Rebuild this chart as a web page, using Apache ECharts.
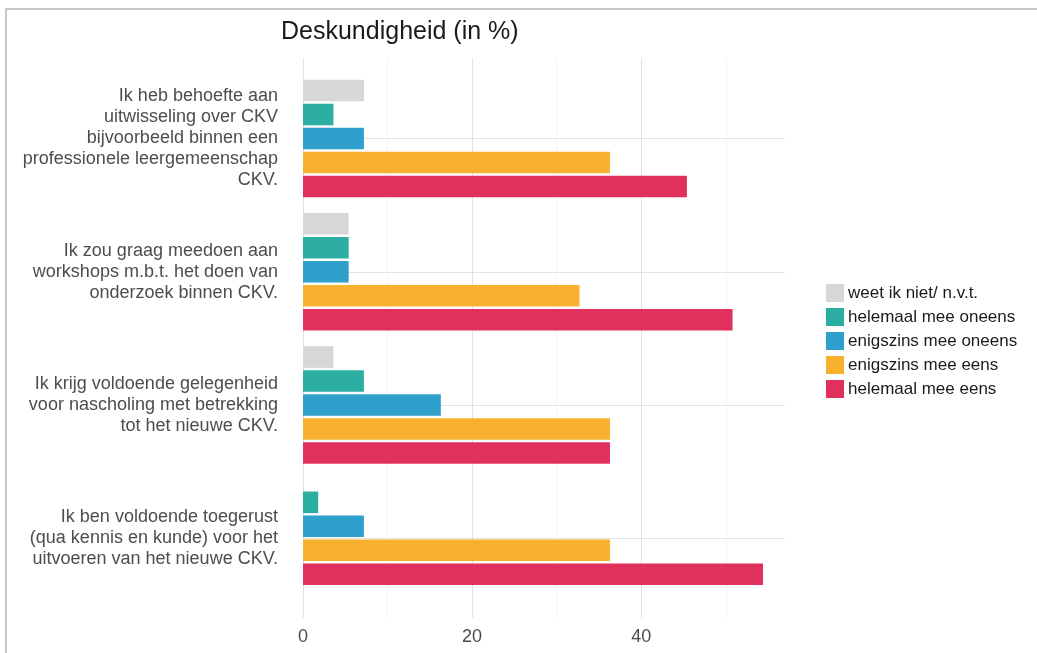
<!DOCTYPE html>
<html>
<head>
<meta charset="utf-8">
<script src="https://cdn.jsdelivr.net/npm/echarts@6/dist/echarts.min.js"></script>
<style>
  html, body { margin: 0; padding: 0; background: #fff; }
  #chart { width: 1037px; height: 653px; }
</style>
</head>
<body>
<div id="chart"></div>
<script>
// stellingen (van boven naar beneden)
const categories = [
  'Ik heb behoefte aan\nuitwisseling over CKV\nbijvoorbeeld binnen een\nprofessionele leergemeenschap\nCKV.',
  'Ik zou graag meedoen aan\nworkshops m.b.t. het doen van\nonderzoek binnen CKV.',
  'Ik krijg voldoende gelegenheid\nvoor nascholing met betrekking\ntot het nieuwe CKV.',
  'Ik ben voldoende toegerust\n(qua kennis en kunde) voor het\nuitvoeren van het nieuwe CKV.'
]

const seriesNames = [
  'weet ik niet/ n.v.t.',
  'helemaal mee oneens',
  'enigszins mee oneens',
  'enigszins mee eens',
  'helemaal mee eens'
]

// percentages per stelling
const weetNiet = [7.2, 5.4, 3.6, null]
const helemaalOneens = [3.6, 5.4, 7.2, 1.8]
const enigszinsOneens = [7.2, 5.4, 16.3, 7.2]
const enigszinsEens = [36.3, 32.7, 36.3, 36.3]
const helemaalEens = [45.4, 50.8, 36.3, 54.4]

const xTicks = [0, 20, 40]

const allValues = [weetNiet, helemaalOneens, enigszinsOneens, enigszinsEens, helemaalEens]
const colors = ['#d7d7d7', '#2bada1', '#2f9fcb', '#f7b12f', '#e2305c']

const chart = echarts.init(document.getElementById('chart'))

// balken per stelling gecentreerd, ontbrekende categorie telt niet mee
function renderBar(params, api) {
  const cat = api.value(1)
  const shown = []
  allValues.forEach(function (vals, s) {
    if (vals[cat] != null) shown.push(s)
  })
  const slot = shown.indexOf(params.seriesIndex)
  const band = Math.abs(api.coord([0, 1])[1] - api.coord([0, 0])[1])
  const pitch = band * 0.9 / seriesNames.length
  const base = api.coord([0, cat])
  const tip = api.coord([api.value(0), cat])
  const mid = base[1] + (slot - (shown.length - 1) / 2) * pitch
  return {
    type: 'rect',
    shape: { x: base[0], y: mid - pitch * 0.45, width: tip[0] - base[0], height: pitch * 0.9 },
    style: api.style()
  }
}

const option = {
  backgroundColor: '#fff',
  textStyle: { fontFamily: '"Liberation Sans", Arial, sans-serif' },
  graphic: [{
    type: 'rect',
    silent: true,
    shape: { x: 6, y: 9, width: 1100, height: 700 },
    style: { fill: 'none', stroke: '#c6c6c6', lineWidth: 2 }
  }],
  title: {
    text: 'Deskundigheid (in %)',
    left: 276,
    top: 15,
    textStyle: { fontSize: 25, fontWeight: 'normal', color: '#1a1a1a' }
  },
  legend: {
    orient: 'vertical',
    left: 826,
    top: 284,
    padding: 0,
    itemWidth: 18,
    itemHeight: 18,
    itemGap: 6,
    icon: 'rect',
    data: seriesNames,
    textStyle: { fontSize: 17, color: '#1a1a1a', padding: [0, 0, 0, -1] }
  },
  grid: [
    // alleen verticale rasterlijnen + x-as labels
    { left: 303, right: 252, top: 58, bottom: 35 },
    // balken
    { left: 303, right: 252, top: 138.5, bottom: 114.7 }
  ],
  xAxis: [
    {
      gridIndex: 0,
      type: 'value',
      min: 0,
      max: 57,
      interval: 10,
      axisLine: { show: false },
      axisTick: { show: false },
      axisLabel: {
        margin: 10,
        fontSize: 18,
        color: '#4d4d4d',
        formatter: function (v) { return xTicks.indexOf(v) >= 0 ? String(v) : '' }
      },
      splitLine: {
        show: true,
        showMaxLine: false,
        lineStyle: { color: ['#e2e2e2', '#f2f2f2'], width: 1 }
      }
    },
    {
      gridIndex: 1,
      type: 'value',
      min: 0,
      max: 57,
      show: false
    }
  ],
  yAxis: [
    { gridIndex: 0, type: 'value', min: 0, max: 1, show: false },
    {
      gridIndex: 1,
      type: 'category',
      data: categories,
      inverse: true,
      boundaryGap: false,
      axisLine: { show: false },
      axisTick: { show: false },
      axisLabel: {
        margin: 25,
        fontSize: 18,
        lineHeight: 21,
        color: '#4d4d4d',
        align: 'right'
      },
      splitLine: { show: true, lineStyle: { color: '#e2e2e2', width: 1 } }
    }
  ],
  series: seriesNames.map(function (name, s) {
    const data = []
    allValues[s].forEach(function (v, i) {
      if (v != null) data.push([v, i])
    })
    return {
      name: name,
      type: 'custom',
      xAxisIndex: 1,
      yAxisIndex: 1,
      clip: false,
      renderItem: renderBar,
      encode: { x: 0, y: 1 },
      itemStyle: { color: colors[s] },
      data: data
    }
  })
}

chart.setOption(option)
</script>
</body>
</html>
